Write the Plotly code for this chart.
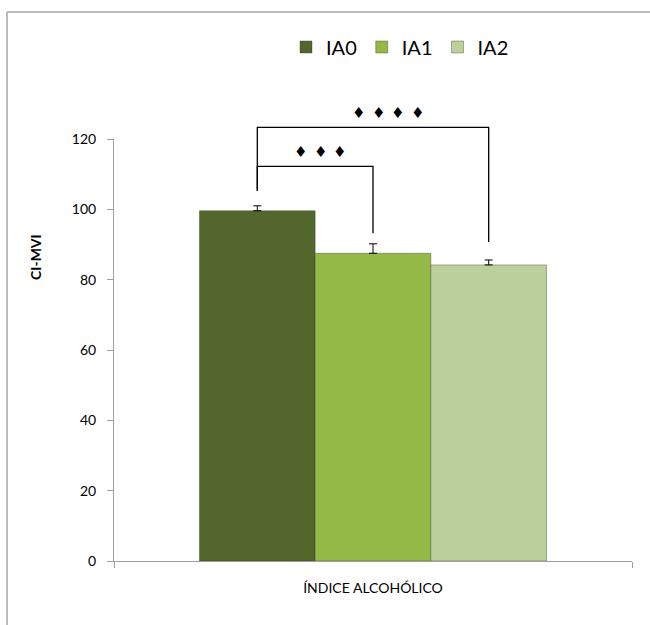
import plotly.graph_objects as go

# ---- data ----
category = ["ÍNDICE ALCOHÓLICO"]
groups = ["IA0", "IA1", "IA2"]
means = [99.6, 87.5, 84.2]
errors_up = [1.4, 2.7, 1.4]
bar_colors = ["#53672C", "#94B946", "#BCD09C"]

y_ticks = [0, 20, 40, 60, 80, 100, 120]

# significance brackets: (group a, group b, bracket top, foot under a, foot under b, marks)
comparisons = [
    (0, 1, 112.2, 105.3, 93.2, 3),
    (0, 2, 123.3, 105.3, 90.7, 4),
]
mark_glyph = "\u2666"

# ---- geometry of the plotting area (pixels) ----
W, H = 650, 625
L, R, T, B = 114, 632, 139, 561
BARGAP = 0.33
Y_MAX = 120.0
mark_shift_px = [5, 15]      # horizontal nudge of each mark row from bracket middle
mark_lift_px = 14            # mark row height above its bracket
mark_step_px = 19.5          # spacing between marks


def px_x(px):
    return (px - L) / (R - L)


def px_y(py):
    return (B - py) / (B - T)


def bar_center(i):
    # grouped bars share one category spanning [-0.5, 0.5]
    group_w = 1.0 - BARGAP
    n = len(groups)
    return -group_w / 2 + group_w / n * (i + 0.5)


def paper_x(xd):
    return xd + 0.5


def paper_y(yd):
    return yd / Y_MAX


fig = go.Figure()
for i, name in enumerate(groups):
    fig.add_trace(go.Bar(
        name=name,
        x=category,
        y=[means[i]],
        marker=dict(color=bar_colors[i], line=dict(color="rgba(40,50,20,0.35)", width=1)),
        error_y=dict(type="data", symmetric=False, array=[errors_up[i]], arrayminus=[0],
                     color="black", thickness=1, width=4),
    ))

shapes = []
annotations = []
line_style = dict(color="black", width=1.3)
for j, (a, b, top, foot_a, foot_b, n_marks) in enumerate(comparisons):
    xa, xb = paper_x(bar_center(a)), paper_x(bar_center(b))
    shapes.append(dict(type="path", xref="paper", yref="paper",
                       path=f"M{xa},{paper_y(foot_a)} L{xa},{paper_y(top)} "
                            f"L{xb},{paper_y(top)} L{xb},{paper_y(foot_b)}",
                       line=line_style))
    xm = (xa + xb) / 2
    for k in range(n_marks):
        annotations.append(dict(
            xref="paper", yref="paper", x=xm, y=paper_y(top),
            text=mark_glyph, showarrow=False, xanchor="center", yanchor="middle",
            xshift=mark_shift_px[j] + (k - (n_marks - 1) / 2) * mark_step_px,
            yshift=mark_lift_px,
            font=dict(family="DejaVu Sans", size=15, color="black")))

# outer chart frame (top and left edges)
frame = dict(color="#A6A6A6", width=1.5)
shapes.append(dict(type="line", xref="paper", yref="paper",
                   x0=px_x(7), x1=px_x(660), y0=px_y(12), y1=px_y(12), line=frame))
shapes.append(dict(type="line", xref="paper", yref="paper",
                   x0=px_x(7), x1=px_x(7), y0=px_y(12), y1=px_y(640), line=frame))

# rotated y-axis title
annotations.append(dict(xref="paper", yref="paper", x=px_x(35), y=px_y(257),
                        text="<b>CI-MVI</b>", textangle=-90, showarrow=False,
                        xanchor="center", yanchor="middle",
                        font=dict(family="Lato", size=14, color="black")))

axis_gray = "#A0A0A0"
fig.update_layout(
    width=W, height=H,
    margin=dict(l=L, r=W - R, t=T, b=H - B),
    paper_bgcolor="white", plot_bgcolor="white",
    barmode="group", bargap=BARGAP, bargroupgap=0,
    font=dict(family="Lato", size=14, color="black"),
    showlegend=True,
    legend=dict(orientation="h", xanchor="center", yanchor="middle",
                x=px_x(400), y=px_y(47), font=dict(family="Lato", size=20),
                itemwidth=30, tracegroupgap=0, bgcolor="rgba(0,0,0,0)"),
    xaxis=dict(showline=True, linecolor=axis_gray, linewidth=1,
               ticks="outside", tickson="boundaries", ticklen=6, tickcolor=axis_gray,
               showgrid=False, ticklabelstandoff=14,
               tickfont=dict(family="Lato", size=14)),
    yaxis=dict(range=[0, Y_MAX], tickvals=y_ticks, showline=True, linecolor=axis_gray,
               linewidth=1, ticks="outside", ticklen=6, tickcolor=axis_gray,
               showgrid=False, zeroline=False, ticklabelstandoff=8,
               tickfont=dict(family="Lato", size=14)),
    shapes=shapes,
    annotations=annotations,
)

fig.write_html("out.html")
